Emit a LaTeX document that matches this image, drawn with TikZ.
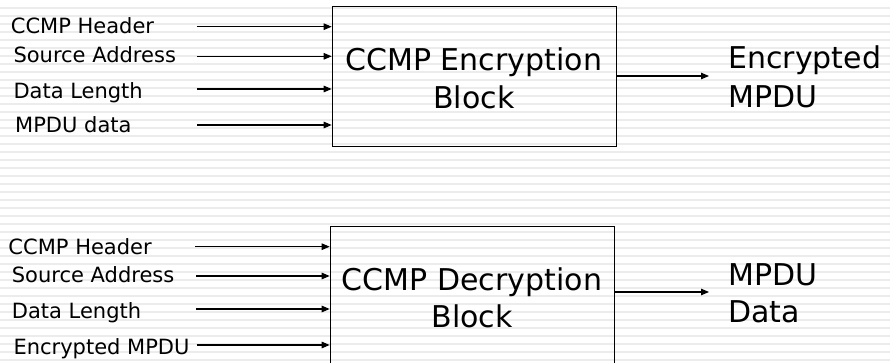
\documentclass[tikz,border=0pt]{standalone}
\usepackage{fontspec}
\setmainfont{DejaVu Sans}
\usetikzlibrary{arrows.meta}

\definecolor{stripecol}{HTML}{ECECEC}

\tikzset{
  stripe/.style={fill=stripecol, draw=none},
  blockbox/.style={draw=black, line width=1pt, inner sep=0pt, anchor=north west},
  inlabel/.style={anchor=base west, inner sep=0pt, font=\fontsize{21}{25}\selectfont},
  blocktext/.style={anchor=base, inner sep=0pt, font=\fontsize{30}{36}\selectfont},
  outlabel/.style={anchor=base west, inner sep=0pt, font=\fontsize{30}{36}\selectfont},
  flow/.style={draw=black, line width=1.1pt, -{Triangle[length=8pt, width=6.5pt]}}
}

\begin{document}
\begin{tikzpicture}[x=1pt, y=-1pt]
  \useasboundingbox (0,0) rectangle (890,363);

  % striped background
  \foreach \k in {0,...,45} {
    \fill[stripe] (0, 8*\k+6.7) rectangle (890, 8*\k+8.9);
  }

  % ---------- encryption block ----------
  \node[blockbox, minimum width=284.3pt, minimum height=140pt] (enc) at (331.7, 6) {};
  \node[blocktext] (enc-t1) at (473.8, 71) {CCMP Encryption};
  \node[blocktext] (enc-t2) at (473.8, 108.3) {Block};

  \node[inlabel] (e-hdr) at (10.7, 34) {CCMP Header};
  \node[inlabel] (e-src) at (13.3, 63) {Source Address};
  \node[inlabel] (e-len) at (13.3, 98.5) {Data Length};
  \node[inlabel] (e-dat) at (15, 133) {MPDU data};

  \coordinate (e-s1) at (197, 26.7);
  \coordinate (e-s2) at (197.3, 56.3);
  \coordinate (e-s3) at (197.3, 89);
  \coordinate (e-s4) at (197.3, 125);
  \foreach \c in {e-s1, e-s2, e-s3, e-s4} {
    \draw[flow] (\c) -- (\c -| enc.west);
  }

  \coordinate (e-out) at (709, 76);
  \draw[flow] (enc.east |- e-out) -- (e-out);
  \node[outlabel] (e-o1) at (728, 69) {Encrypted};
  \node[outlabel] (e-o2) at (728, 108) {MPDU};

  % ---------- decryption block ----------
  \node[blockbox, minimum width=284.6pt, minimum height=150pt] (dec) at (329.7, 226) {};
  \node[blocktext] (dec-t1) at (472, 290) {CCMP Decryption};
  \node[blocktext] (dec-t2) at (472, 327.3) {Block};

  \node[inlabel] (d-hdr) at (8.3, 254) {CCMP Header};
  \node[inlabel] (d-src) at (11.7, 282.7) {Source Address};
  \node[inlabel] (d-len) at (11.7, 318) {Data Length};
  \node[inlabel] (d-enc) at (13.3, 354) {Encrypted MPDU};

  \coordinate (d-s1) at (195, 246.7);
  \coordinate (d-s2) at (196, 276);
  \coordinate (d-s3) at (196, 309);
  \coordinate (d-s4) at (196.7, 345);
  \foreach \c in {d-s1, d-s2, d-s3, d-s4} {
    \draw[flow] (\c) -- (\c -| dec.west);
  }

  \coordinate (d-out) at (709, 292);
  \draw[flow] (dec.east |- d-out) -- (d-out);
  \node[outlabel] (d-o1) at (728, 285) {MPDU};
  \node[outlabel] (d-o2) at (728, 322.7) {Data};
\end{tikzpicture}
\end{document}
